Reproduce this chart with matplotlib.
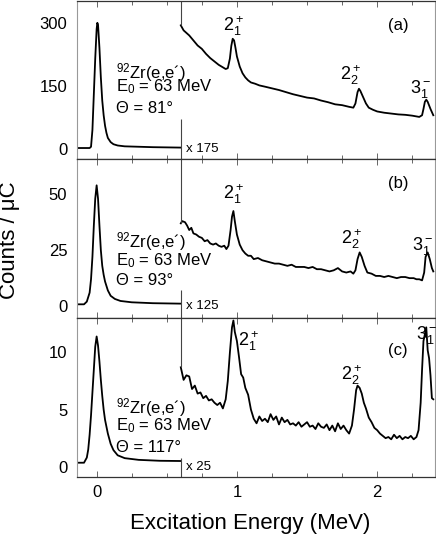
import matplotlib.pyplot as plt
import numpy as np

plt.rcParams['font.family'] = ['Liberation Sans', 'DejaVu Sans']
plt.rcParams['mathtext.fontset'] = 'custom'
plt.rcParams['mathtext.rm'] = 'Liberation Sans'
plt.rcParams['mathtext.it'] = 'Liberation Sans'
plt.rcParams['mathtext.bf'] = 'Liberation Sans'
plt.rcParams['mathtext.default'] = 'regular'

# elastic peaks (true scale)
el_a_x = [-0.14, -0.05, -0.04, -0.03, -0.02, -0.01, 0.0, 0.005, 0.01, 0.02, 0.03, 0.04, 0.05,
          0.06, 0.07, 0.08, 0.10, 0.12, 0.15, 0.20, 0.30, 0.40, 0.50, 0.60]
el_a_y = [2, 2, 5, 45, 130, 215, 285, 300, 295, 240, 170, 115, 80, 55, 38, 26, 16, 11, 8, 6,
          5, 4, 3.5, 3]
el_b_x = [-0.14, -0.09, -0.07, -0.05, -0.04, -0.03, -0.02, -0.01, 0.0, 0.01, 0.02, 0.03, 0.04,
          0.05, 0.06, 0.08, 0.10, 0.13, 0.17, 0.25, 0.40, 0.60]
el_b_y = [0.8, 0.8, 2, 6, 12, 22, 36, 48, 54, 48, 36, 25, 18, 14, 11, 7, 4.6, 3.2, 2.3, 1.7,
          1.3, 1.1]
el_c_x = [-0.14, -0.09, -0.07, -0.06, -0.05, -0.04, -0.03, -0.02, -0.01, 0.0, 0.01, 0.02, 0.03,
          0.04, 0.05, 0.06, 0.08, 0.10, 0.12, 0.15, 0.20, 0.30, 0.45, 0.60]
el_c_y = [0.35, 0.35, 0.8, 1.5, 2.8, 4.5, 6.5, 8.5, 10.5, 11.4, 10.6, 9.2, 7.6, 6.2, 5.0, 4.1,
          2.9, 2.0, 1.45, 1.0, 0.75, 0.6, 0.52, 0.5]

# inelastic part (scaled up)
in_a_x = [0.60, 0.62, 0.64, 0.66, 0.68, 0.70, 0.72, 0.75, 0.78, 0.81, 0.84, 0.87, 0.90, 0.92,
          0.935, 0.95, 0.96, 0.97, 0.98, 0.99, 1.00, 1.02, 1.04, 1.06, 1.08, 1.10, 1.13, 1.16,
          1.20, 1.25, 1.30, 1.35, 1.40, 1.45, 1.50, 1.55, 1.60, 1.65, 1.70, 1.75, 1.80, 1.83,
          1.845, 1.86, 1.87, 1.88, 1.90, 1.92, 1.94, 1.97, 2.00, 2.05, 2.10, 2.15, 2.20, 2.25,
          2.30, 2.32, 2.33, 2.34, 2.35, 2.36, 2.38, 2.40]
in_a_y = [294, 282, 276, 270, 262, 254, 246, 238, 226, 216, 208, 200, 194, 190, 192, 215, 245,
          262, 258, 240, 220, 196, 180, 170, 163, 158, 155, 151, 148, 144, 140, 135, 130, 126,
          122, 120, 115, 111, 106, 104, 100, 98, 108, 135, 143, 138, 123, 108, 98, 93, 89, 86,
          84, 82, 81, 79, 76, 80, 95, 112, 117, 112, 95, 80]
in_b_x = [0.60, 0.61, 0.63, 0.645, 0.66, 0.675, 0.69, 0.71, 0.73, 0.75, 0.77, 0.79, 0.81, 0.83,
          0.85, 0.87, 0.89, 0.91, 0.925, 0.94, 0.955, 0.965, 0.975, 0.985, 1.00, 1.02, 1.04,
          1.06, 1.08, 1.10, 1.12, 1.15, 1.18, 1.21, 1.24, 1.27, 1.30, 1.33, 1.36, 1.39, 1.42,
          1.45, 1.48, 1.51, 1.54, 1.57, 1.60, 1.63, 1.66, 1.69, 1.72, 1.75, 1.78, 1.81, 1.83,
          1.845, 1.86, 1.875, 1.89, 1.91, 1.93, 1.96, 1.99, 2.02, 2.05, 2.08, 2.11, 2.14, 2.17,
          2.20, 2.23, 2.26, 2.28, 2.30, 2.32, 2.335, 2.345, 2.36, 2.375, 2.39, 2.40]
in_b_y = [37, 38, 37.5, 36, 34, 35, 32.5, 32, 31, 30.5, 29, 29.5, 28, 27.5, 28, 27, 26.5, 27,
          25.5, 27, 34, 40, 42.5, 38, 32, 27.5, 25, 23.5, 22.5, 22.5, 21, 21.5, 20.5, 20, 19.5,
          19, 19, 18.5, 18, 18.5, 17.5, 17.5, 17.5, 17, 17.5, 16.5, 16.5, 16, 15.5, 16, 17,
          15.5, 15, 15.5, 14.5, 16, 21, 24, 22, 18, 15, 14.5, 13.5, 13.5, 13, 13.5, 13, 12.5,
          13, 13, 12.5, 12.5, 12, 12, 11.5, 15, 22, 24, 21, 17, 15.5]
in_c_x = [0.60, 0.62, 0.64, 0.66, 0.68, 0.70, 0.72, 0.74, 0.76, 0.78, 0.80, 0.82, 0.84, 0.86,
          0.88, 0.90, 0.92, 0.935, 0.95, 0.965, 0.975, 0.985, 1.00, 1.015, 1.03, 1.045, 1.06,
          1.08, 1.10, 1.12, 1.14, 1.16, 1.18, 1.20, 1.22, 1.24, 1.26, 1.28, 1.30, 1.32, 1.34,
          1.36, 1.38, 1.40, 1.42, 1.44, 1.46, 1.48, 1.50, 1.52, 1.54, 1.56, 1.58, 1.60, 1.62,
          1.64, 1.66, 1.68, 1.70, 1.72, 1.74, 1.76, 1.78, 1.80, 1.82, 1.835, 1.85, 1.86, 1.875,
          1.89, 1.905, 1.92, 1.94, 1.96, 1.98, 2.00, 2.02, 2.04, 2.06, 2.08, 2.10, 2.12, 2.14,
          2.16, 2.18, 2.20, 2.22, 2.24, 2.26, 2.28, 2.295, 2.31, 2.32, 2.33, 2.34, 2.35, 2.36,
          2.37, 2.38, 2.39, 2.40]
in_c_y = [8.7, 7.6, 8.0, 7.9, 6.8, 7.1, 6.4, 6.5, 6.0, 6.2, 5.8, 5.9, 5.6, 5.4, 5.6, 5.1, 5.9,
          7.5, 10.0, 12.2, 12.8, 11.8, 11.0, 9.6, 8.1, 7.8, 6.9, 6.3, 5.0, 4.2, 3.8, 4.4, 4.0,
          4.2, 3.9, 4.6, 4.1, 4.4, 3.7, 4.3, 3.9, 4.1, 3.7, 3.8, 3.6, 3.9, 3.5, 3.7, 3.9, 3.5,
          3.6, 3.3, 3.8, 3.5, 3.4, 3.7, 3.2, 3.6, 3.1, 3.8, 3.3, 3.6, 3.2, 2.9, 3.6, 5.0, 6.7,
          7.1, 6.9, 6.4, 5.6, 5.1, 4.3, 3.9, 3.4, 3.2, 2.9, 2.7, 2.5, 2.6, 2.4, 2.8, 2.5, 2.7,
          2.4, 2.6, 2.5, 2.7, 2.4, 2.6, 3.2, 5.6, 8.5, 11.0, 11.6, 12.2, 10.2, 9.5, 8.0, 6.0, 5.9]

angles = ['81°', '93°', '117°']
scales = ['x 175', 'x 125', 'x 25']
panel_tags = ['(a)', '(b)', '(c)']
tag_y = [293, 55, 10.2]
yticks = [[0, 150, 300], [0, 25, 50], [0, 5, 10]]
ylims = [(-25, 353), (-5.4, 65.6), (-0.9, 13.0)]
level_labels = [r'$2^+_1$', r'$2^+_2$', r'$3^-_1$']
level_pos = [[(0.975, 293), (1.81, 175), (2.31, 143)],
             [(0.975, 50), (1.82, 30), (2.32, 27)],
             [(1.08, 11.0), (1.82, 8.0), (2.35, 11.5)]]
text_y = [[182, 149, 96], [28.7, 20.5, 11.6], [5.15, 3.57, 1.7]]
line_low = [72, 7, 0.8]

elastic = [(el_a_x, el_a_y), (el_b_x, el_b_y), (el_c_x, el_c_y)]
inelastic = [(in_a_x, in_a_y), (in_b_x, in_b_y), (in_c_x, in_c_y)]

fig = plt.figure(figsize=(4.36, 5.35), dpi=100)
gs = fig.add_gridspec(3, 1, left=0.1766, right=0.997, top=0.999, bottom=0.1084, hspace=0)
axes = [fig.add_subplot(gs[i]) for i in range(3)]

for i, ax in enumerate(axes):
    ex, ey = elastic[i]
    ix, iy = inelastic[i]
    ax.plot(ex, ey, color='black', lw=1.3)
    ax.plot(ix, iy, color='black', lw=1.3)

    ax.set_xlim(-0.14, 2.41)
    ax.set_ylim(*ylims[i])
    ylo, yhi = ylims[i]
    # divider at 0.6, broken where the annotation sits
    ax.vlines(0.6, iy[0], yhi, color='#444444', lw=0.8)
    ax.vlines(0.6, ylo, line_low[i], color='#444444', lw=0.8)

    ax.set_xticks([0, 1, 2])
    ax.set_xticks(np.arange(0.0, 2.41, 0.25), minor=True)
    ax.set_yticks(yticks[i])
    ax.tick_params(axis='x', which='both', direction='in', top=True, bottom=True,
                   color='#666666', width=0.7, labelsize=12, pad=6)
    ax.tick_params(axis='x', which='major', length=4)
    ax.tick_params(axis='x', which='minor', length=3)
    ax.tick_params(axis='y', length=0, labelsize=12, pad=7)
    if i < 2:
        ax.tick_params(axis='x', labelbottom=False)

    for s in ['left', 'right']:
        ax.spines[s].set_color('#999999')
        ax.spines[s].set_linewidth(0.8)
    for s in ['top', 'bottom']:
        ax.spines[s].set_color('#333333')
        ax.spines[s].set_linewidth(0.9)

    tx = 0.14
    ax.text(tx, text_y[i][0], r'$^{92}$Zr(e,e´)', fontsize=12, va='center', ha='left')
    ax.text(tx, text_y[i][1], r'E$_0$ = 63 MeV', fontsize=12, va='center', ha='left')
    ax.text(tx, text_y[i][2], 'Θ = ' + angles[i], fontsize=12, va='center', ha='left')

    ax.text(0.64, 0, scales[i], fontsize=9.5, va='center', ha='left')
    ax.text(2.15, tag_y[i], panel_tags[i], fontsize=12, ha='center', va='center')
    for lab, (lx, ly) in zip(level_labels, level_pos[i]):
        ax.text(lx, ly, lab, fontsize=13, ha='center', va='center')

fig.text(10 / 436, 1 - 240 / 535, 'Counts / μC', rotation=90, fontsize=16,
         ha='center', va='center')
fig.text(250 / 436, 1 - 523 / 535, 'Excitation Energy (MeV)', fontsize=16,
         ha='center', va='center')

fig.savefig('out.png', dpi=100)
